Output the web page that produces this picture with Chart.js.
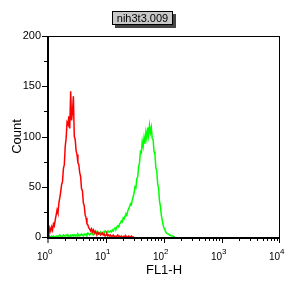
<!DOCTYPE html>
<html>
<head>
<meta charset="utf-8">
<script src="https://cdn.jsdelivr.net/npm/chart.js@4.4.1/dist/chart.umd.min.js"></script>
<style>
  html, body { margin: 0; padding: 0; background: #fff; }
  #wrap { position: relative; width: 288px; height: 288px; }
  #sample {
    position: absolute; left: 112px; top: 11px; width: 59px; height: 12px;
    background: #c8c8c8; border: 1px solid #000; box-shadow: 3px 3px 0 #444;
    font: 11px "Liberation Sans", Arial, sans-serif; line-height: 12px;
    text-align: center; color: #000;
  }
</style>
</head>
<body>
<div id="wrap">
  <canvas id="myChart" width="288" height="288"></canvas>
  <div id="sample">nih3t3.009</div>
</div>
<script>
const sampleName = "nih3t3.009";
const xTitle = "FL1-H";
const yTitle = "Count";
const decades = [0, 1, 2, 3, 4];          // tick labels 10^0 .. 10^4
const yTicks = [0, 50, 100, 150, 200];
const channelsPerDecade = 64;             // 256 channel log histogram

// counts per channel, starting at channel 0
const redCounts = [
  6, 3, 9, 6, 10, 7, 13, 11, 17, 22,
  27, 24, 34, 39, 45, 52, 55, 68, 72, 90,
  98, 114, 112, 120, 108, 145, 116, 124, 140, 100,
  97, 86, 82, 74, 72, 64, 60, 48, 46, 34,
  31, 22, 19, 13, 12, 9, 8, 6, 8, 5,
  7, 4, 6, 4, 3, 5, 3, 4, 2, 3,
  4, 2, 3, 1, 2, 3, 1, 2, 1, 2,
  0, 1, 2, 0, 1, 0, 1, 2, 0, 1,
  0, 1, 0, 0, 1, 0, 1, 0, 0, 1,
  0, 0, 1, 0, 0, 0
];
const greenCounts = [
  0, 1, 0, 0, 1, 0, 1, 0, 0, 1,
  1, 0, 1, 2, 1, 0, 1, 2, 1, 1,
  2, 1, 2, 1, 0, 2, 1, 2, 1, 2,
  1, 2, 1, 3, 2, 1, 2, 3, 2, 1,
  3, 2, 3, 2, 4, 3, 2, 3, 4, 3,
  2, 3, 4, 3, 5, 4, 3, 4, 5, 4,
  3, 5, 4, 6, 5, 4, 6, 5, 5, 6,
  5, 7, 6, 8, 9, 8, 10, 11, 10, 13,
  14, 16, 15, 19, 18, 21, 23, 22, 26, 28,
  30, 33, 32, 37, 40, 44, 50, 49, 58, 60,
  70, 74, 85, 84, 95, 90, 99, 93, 104, 98,
  109, 101, 111, 104, 109, 98, 97, 85, 82, 69,
  66, 53, 49, 36, 31, 22, 17, 12, 9, 7,
  5, 4, 3, 3, 2, 2, 1, 1, 1, 0, 0
];

const toPoints = (counts) => counts.map((c, ch) => ({ x: Math.pow(10, ch / channelsPerDecade), y: c }));

const fontFamily = '"Liberation Sans", Arial, sans-serif';

// frame, tick marks and 10^n labels
const axisPlugin = {
  id: 'axisPlugin',
  afterDraw(chart) {
    const ctx = chart.ctx;
    const a = chart.chartArea;
    const xs = chart.scales.x;
    const ys = chart.scales.y;
    ctx.save();
    ctx.strokeStyle = '#000';
    ctx.fillStyle = '#000';
    ctx.lineWidth = 1;
    ctx.strokeRect(a.left + 0.5, a.top + 0.5, a.right - a.left - 1, a.bottom - a.top);
    ctx.lineWidth = 2;
    ctx.beginPath();
    ctx.moveTo(a.left, a.top);
    ctx.lineTo(a.left, a.bottom + 1);
    ctx.lineTo(a.right, a.bottom + 1);
    ctx.stroke();

    ctx.lineWidth = 1;
    ctx.beginPath();
    // y ticks
    for (let v = 0; v <= 200; v += 25) {
      const y = Math.round(ys.getPixelForValue(v)) + 0.5;
      const len = v % 50 === 0 ? 5 : 3;
      ctx.moveTo(a.left - 1 - len, y);
      ctx.lineTo(a.left - 1, y);
    }
    // x ticks
    decades.forEach((d, i) => {
      if (i === decades.length - 1) {
        const x = Math.round(xs.getPixelForValue(Math.pow(10, d))) - 0.5;
        ctx.moveTo(x, a.bottom + 2);
        ctx.lineTo(x, a.bottom + 6);
        return;
      }
      for (let m = 1; m < 10; m++) {
        const x = Math.round(xs.getPixelForValue(m * Math.pow(10, d))) + (d === 0 && m === 1 ? 0 : 0.5);
        const len = m === 1 ? 4 : 2;
        ctx.moveTo(x, a.bottom + 2);
        ctx.lineTo(x, a.bottom + 2 + len);
      }
    });
    ctx.stroke();

    // x labels
    decades.forEach((d) => {
      const x = xs.getPixelForValue(Math.pow(10, d));
      ctx.font = '10px ' + fontFamily;
      ctx.textAlign = 'right';
      ctx.textBaseline = 'alphabetic';
      ctx.fillText('10', x, 260);
      ctx.font = '8px ' + fontFamily;
      ctx.textAlign = 'left';
      ctx.fillText(String(d), x, 254);
    });
    ctx.restore();
  }
};

const chartArea = document.getElementById('myChart');
const chart = new Chart(chartArea, {
  type: 'line',
  data: {
    datasets: [
      { label: 'control', data: toPoints(redCounts), borderColor: '#ff0000', borderWidth: 1.5, pointRadius: 0, tension: 0, fill: false },
      { label: sampleName, data: toPoints(greenCounts), borderColor: '#00ff00', borderWidth: 1.5, pointRadius: 0, tension: 0, fill: false }
    ]
  },
  options: {
    responsive: false,
    animation: false,
    layout: { padding: { top: 36, right: 8, left: 0, bottom: 0 } },
    plugins: { legend: { display: false }, tooltip: { enabled: false } },
    scales: {
      x: {
        type: 'logarithmic',
        min: 1,
        max: 10000,
        grid: { display: false },
        border: { display: false },
        ticks: { display: false },
        title: { display: true, text: xTitle, color: '#000', font: { size: 13, family: fontFamily }, padding: { top: 0, bottom: 10 } },
        afterFit: (scale) => { scale.height = 51; }
      },
      y: {
        min: 0,
        max: 200,
        grid: { display: false, drawTicks: false },
        border: { display: false },
        ticks: {
          stepSize: 50,
          padding: 7,
          color: '#000',
          font: { size: 11, family: fontFamily },
          callback: (v) => yTicks.includes(v) ? String(v) : ''
        },
        title: { display: true, text: yTitle, color: '#000', font: { size: 13, family: fontFamily }, padding: { top: 10, bottom: 0 } },
        afterFit: (scale) => { scale.width = 48; }
      }
    }
  },
  plugins: [axisPlugin]
});
</script>
</body>
</html>
